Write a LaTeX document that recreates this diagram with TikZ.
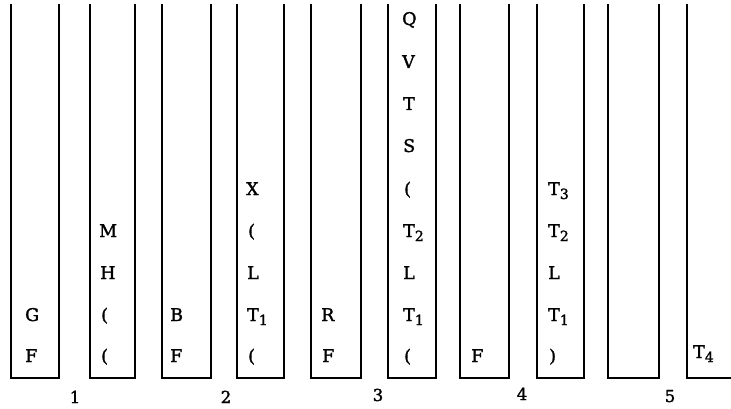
\documentclass[tikz,border=0pt]{standalone}
\usepackage{fontspec}
\setmainfont[FakeBold=1.6]{DejaVu Serif}
\newcommand{\sbs}[1]{\raisebox{-4pt}{\fontsize{14}{14}\selectfont #1}}
\begin{document}
\begin{tikzpicture}[x=1pt,y=-1pt,
  stack/.style={line width=2.2pt, line join=miter, line cap=butt},
  lbl/.style={anchor=base west, font=\fontsize{17.5}{20}\selectfont, inner sep=0pt},
  num/.style={anchor=base, font=\fontsize{16.5}{20}\selectfont, inner sep=0pt}]
\useasboundingbox (0,0) rectangle (731,409);
% open-top stacks: left x, right x
\foreach \l/\r [count=\i] in {11/59, 90/135, 162/211, 237/284, 311/361, 388/436, 460/509, 537/584, 608/659}{
  \draw[stack] (\l,4) -- (\l,378) -- (\r,378) -- (\r,4);
}
\draw[stack] (687,4) -- (687,378) -- (731,378);
% contents, bottom to top rows (baselines)
\def\rowA{362}\def\rowB{321}\def\rowC{279}\def\rowD{237}\def\rowE{195}
\def\rowF{152}\def\rowG{110}\def\rowH{68}\def\rowI{25}
% column 1
\node[lbl] (c1a) at (25,\rowA) {F};
\node[lbl] (c1b) at (25,\rowB) {G};
% column 2
\node[lbl] (c2a) at (101,\rowA) {(};
\node[lbl] (c2b) at (101,\rowB) {(};
\node[lbl] (c2c) at (100,\rowC) {H};
\node[lbl] (c2d) at (99,\rowD) {M};
% column 3
\node[lbl] (c3a) at (170,\rowA) {F};
\node[lbl] (c3b) at (170,\rowB) {B};
% column 4
\node[lbl] (c4a) at (248,\rowA) {(};
\node[lbl] (c4b) at (247,\rowB) {T\sbs{1}};
\node[lbl] (c4c) at (247,\rowC) {L};
\node[lbl] (c4d) at (248,\rowD) {(};
\node[lbl] (c4e) at (246,\rowE) {X};
% column 5
\node[lbl] (c5a) at (322,\rowA) {F};
\node[lbl] (c5b) at (321,\rowB) {R};
% column 6
\node[lbl] (c6a) at (404,\rowA) {(};
\node[lbl] (c6b) at (403,\rowB) {T\sbs{1}};
\node[lbl] (c6c) at (403,\rowC) {L};
\node[lbl] (c6d) at (403,\rowD) {T\sbs{2}};
\node[lbl] (c6e) at (404,\rowE) {(};
\node[lbl] (c6f) at (403,\rowF) {S};
\node[lbl] (c6g) at (403,\rowG) {T};
\node[lbl] (c6h) at (402,\rowH) {V};
\node[lbl] (c6i) at (402,\rowI) {Q};
% column 7
\node[lbl] (c7a) at (471,\rowA) {F};
% column 8
\node[lbl] (c8a) at (549,\rowA) {)};
\node[lbl] (c8b) at (548,\rowB) {T\sbs{1}};
\node[lbl] (c8c) at (548,\rowC) {L};
\node[lbl] (c8d) at (548,\rowD) {T\sbs{2}};
\node[lbl] (c8e) at (548,\rowE) {T\sbs{3}};
% column 10
\node[lbl] (c10a) at (693,\rowA-4) {T\sbs{4}};
% stack numbers
\node[num] (n1) at (75,403) {1};
\node[num] (n2) at (226,403) {2};
\node[num] (n3) at (378,401) {3};
\node[num] (n4) at (522,400) {4};
\node[num] (n5) at (670,402) {5};
\end{tikzpicture}
\end{document}
